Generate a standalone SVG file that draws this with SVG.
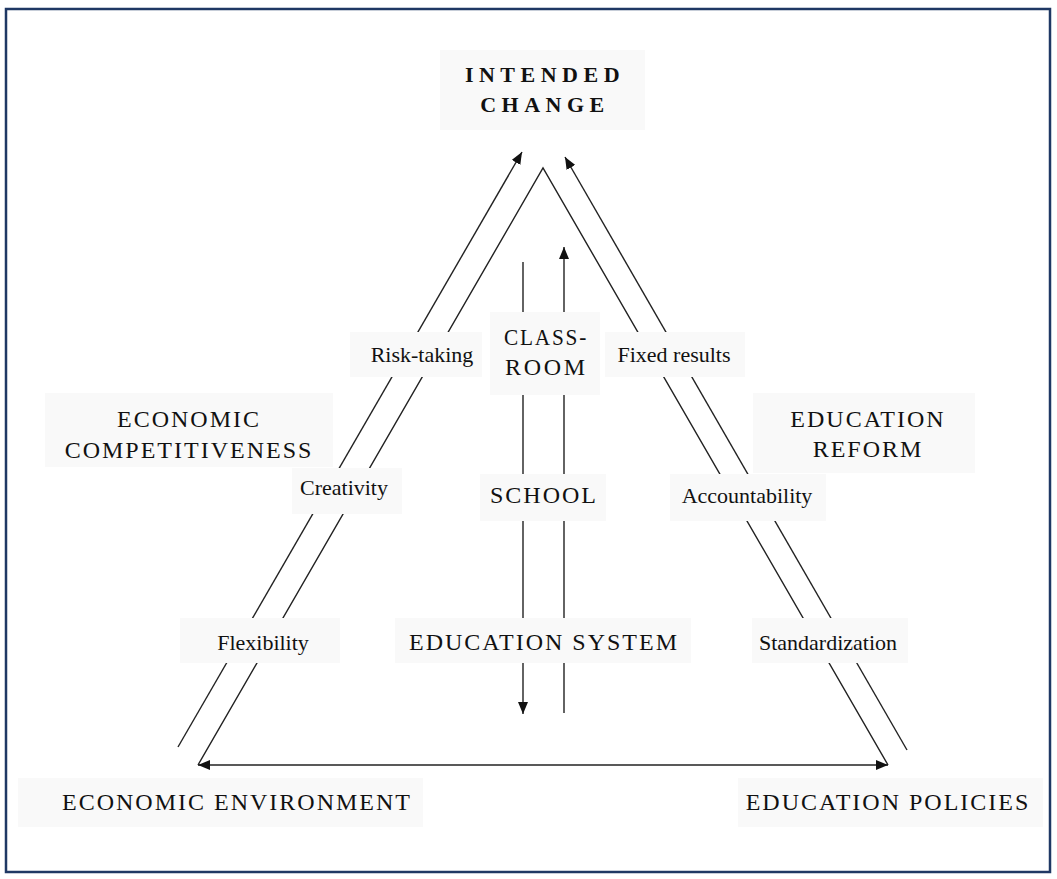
<svg xmlns="http://www.w3.org/2000/svg" width="1057" height="879" viewBox="0 0 1057 879">
<style>
.bx{fill:#f9f9f9;stroke:none}
.ln{stroke:#222;stroke-width:1.4;fill:none}
.cap{font-family:"Liberation Serif","Times New Roman",serif;font-size:24px;letter-spacing:2px;fill:#111;text-anchor:middle}
.lc{font-family:"Liberation Serif","Times New Roman",serif;font-size:22px;fill:#111;text-anchor:middle}
.ttl{font-family:"Liberation Serif","Times New Roman",serif;font-size:22px;font-weight:bold;letter-spacing:5.5px;fill:#111;text-anchor:middle}
</style>
<defs>
<marker id="ah" viewBox="0 0 12 10" refX="12" refY="5" markerWidth="12" markerHeight="10" markerUnits="userSpaceOnUse" orient="auto-start-reverse">
<path d="M0,0 L12,5 L0,10 z" fill="#111"/>
</marker>
</defs>
<rect x="0" y="0" width="1057" height="879" fill="#fff"/>
<rect x="6" y="9" width="1044" height="863" fill="#fff" stroke="#1f3864" stroke-width="2.5"/>
<g id="connectors">
<line class="ln" x1="178" y1="747" x2="522" y2="152" marker-end="url(#ah)"/>
<line class="ln" x1="907" y1="750" x2="565" y2="157" marker-end="url(#ah)"/>
<polyline class="ln" points="198,765 543,168 888,765"/>
<line class="ln" x1="198" y1="765" x2="888" y2="765" marker-start="url(#ah)" marker-end="url(#ah)"/>
<line class="ln" x1="523" y1="262" x2="523" y2="714" marker-end="url(#ah)"/>
<line class="ln" x1="564" y1="713" x2="564" y2="247" marker-end="url(#ah)"/>
</g>
<g id="n-intended"><rect class="bx" x="440" y="50" width="205" height="80"/><text class="ttl" x="545" y="82">INTENDED</text><text class="ttl" x="545" y="112">CHANGE</text></g>
<g id="n-risk"><rect class="bx" x="350" y="332" width="132" height="45"/><text class="lc" x="422" y="362">Risk-taking</text></g>
<g id="n-classroom"><rect class="bx" x="490" y="312" width="110" height="83"/><text class="cap" x="546" y="345" textLength="84" lengthAdjust="spacingAndGlyphs">CLASS-</text><text class="cap" x="546" y="375" textLength="82">ROOM</text></g>
<g id="n-fixed"><rect class="bx" x="605" y="332" width="140" height="45"/><text class="lc" x="674" y="362">Fixed results</text></g>
<g id="n-econcomp"><rect class="bx" x="45" y="393" width="288" height="74"/><text class="cap" x="189" y="427">ECONOMIC</text><text class="cap" x="189" y="458">COMPETITIVENESS</text></g>
<g id="n-edreform"><rect class="bx" x="753" y="393" width="222" height="80"/><text class="cap" x="868" y="427">EDUCATION</text><text class="cap" x="868" y="457">REFORM</text></g>
<g id="n-creativity"><rect class="bx" x="292" y="468" width="110" height="46"/><text class="lc" x="344" y="495">Creativity</text></g>
<g id="n-school"><rect class="bx" x="480" y="474" width="126" height="47"/><text class="cap" x="544" y="503">SCHOOL</text></g>
<g id="n-account"><rect class="bx" x="670" y="474" width="156" height="47"/><text class="lc" x="747" y="503">Accountability</text></g>
<g id="n-flex"><rect class="bx" x="180" y="618" width="160" height="45"/><text class="lc" x="263" y="650">Flexibility</text></g>
<g id="n-edsys"><rect class="bx" x="395" y="618" width="296" height="45"/><text class="cap" x="544" y="650">EDUCATION SYSTEM</text></g>
<g id="n-standard"><rect class="bx" x="752" y="618" width="156" height="45"/><text class="lc" x="828" y="650">Standardization</text></g>
<g id="n-econenv"><rect class="bx" x="18" y="778" width="405" height="49"/><text class="cap" x="237" y="810">ECONOMIC ENVIRONMENT</text></g>
<g id="n-edpol"><rect class="bx" x="738" y="778" width="305" height="49"/><text class="cap" x="888" y="810">EDUCATION POLICIES</text></g>
</svg>
